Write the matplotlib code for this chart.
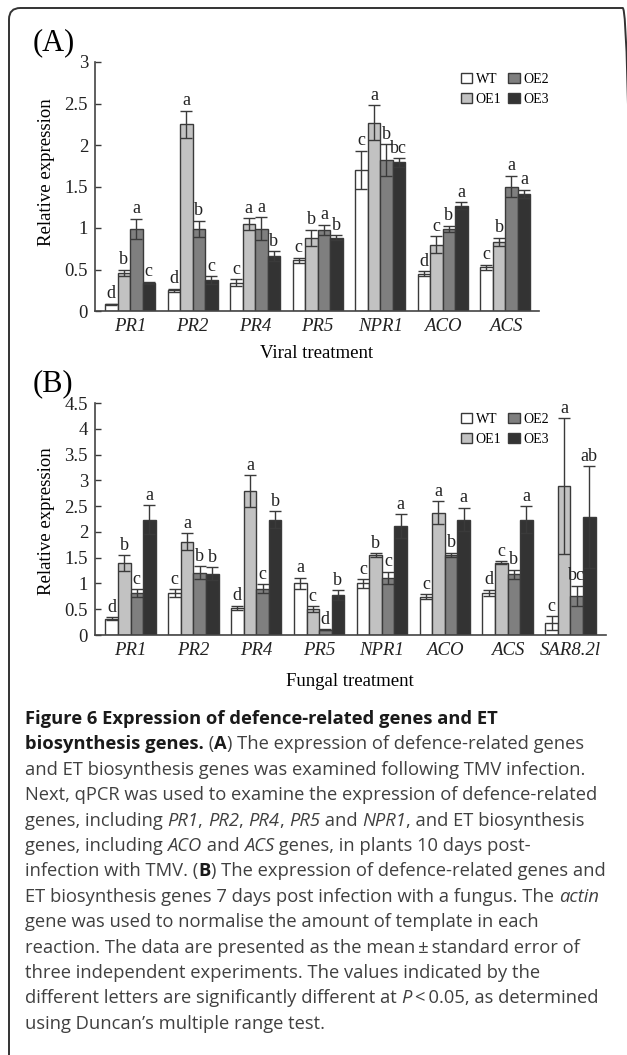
import matplotlib
matplotlib.use("Agg")
import matplotlib.pyplot as plt
import numpy as np
from matplotlib.patches import FancyBboxPatch

W, H = 627, 1055
SERIF = "Liberation Serif"
CAP_FONT = "Open Sans"

lines_names = ["WT", "OE1", "OE2", "OE3"]
bar_colors = ["#ffffff", "#c2c2c2", "#7f7f7f", "#333333"]
edge_col = "#3a3a3a"

# ---- panel A : viral treatment
genes_a = ["PR1", "PR2", "PR4", "PR5", "NPR1", "ACO", "ACS"]
mean_a = {
    "WT":  [0.08, 0.25, 0.34, 0.61, 1.70, 0.45, 0.53],
    "OE1": [0.46, 2.25, 1.05, 0.88, 2.27, 0.80, 0.83],
    "OE2": [0.99, 0.99, 0.99, 0.98, 1.82, 0.99, 1.50],
    "OE3": [0.34, 0.37, 0.66, 0.88, 1.79, 1.27, 1.41],
}
err_a = {
    "WT":  [0.01, 0.02, 0.04, 0.03, 0.23, 0.03, 0.03],
    "OE1": [0.04, 0.16, 0.07, 0.10, 0.21, 0.10, 0.05],
    "OE2": [0.12, 0.10, 0.14, 0.06, 0.19, 0.04, 0.13],
    "OE3": [0.01, 0.05, 0.06, 0.03, 0.05, 0.04, 0.05],
}
let_a = {
    "WT":  ["d", "d", "c", "c", "c", "d", "c"],
    "OE1": ["b", "a", "a", "b", "a", "c", "b"],
    "OE2": ["a", "b", "a", "a", "b", "b", "a"],
    "OE3": ["c", "c", "b", "b", "bc", "a", "a"],
}

# ---- panel B : fungal treatment
genes_b = ["PR1", "PR2", "PR4", "PR5", "NPR1", "ACO", "ACS", "SAR8.2l"]
mean_b = {
    "WT":  [0.32, 0.81, 0.53, 1.00, 1.00, 0.74, 0.82, 0.23],
    "OE1": [1.40, 1.81, 2.79, 0.50, 1.55, 2.37, 1.40, 2.89],
    "OE2": [0.81, 1.21, 0.90, 0.10, 1.11, 1.56, 1.18, 0.76],
    "OE3": [2.24, 1.19, 2.24, 0.77, 2.11, 2.24, 2.24, 2.29],
}
err_b = {
    "WT":  [0.03, 0.08, 0.04, 0.11, 0.08, 0.05, 0.06, 0.14],
    "OE1": [0.15, 0.17, 0.31, 0.06, 0.04, 0.22, 0.03, 1.32],
    "OE2": [0.08, 0.13, 0.08, 0.01, 0.12, 0.04, 0.09, 0.20],
    "OE3": [0.28, 0.12, 0.16, 0.10, 0.23, 0.23, 0.26, 0.99],
}
let_b = {
    "WT":  ["d", "c", "d", "a", "c", "c", "d", "c"],
    "OE1": ["b", "a", "a", "c", "b", "a", "c", "a"],
    "OE2": ["c", "b", "c", "d", "c", "b", "b", "bc"],
    "OE3": ["a", "b", "b", "b", "a", "a", "a", "ab"],
}

caption = [
    [("Figure 6 Expression of defence-related genes and ET", "b")],
    [("biosynthesis genes.", "b"), (" (", "n"), ("A", "b"),
     (") The expression of defence-related genes", "n")],
    [("and ET biosynthesis genes was examined following TMV infection.", "n")],
    [("Next, qPCR was used to examine the expression of defence-related", "n")],
    [("genes, including ", "n"), ("PR1", "i"), (", ", "n"), ("PR2", "i"),
     (", ", "n"), ("PR4", "i"), (", ", "n"), ("PR5", "i"), (" and ", "n"),
     ("NPR1", "i"), (", and ET biosynthesis", "n")],
    [("genes, including ", "n"), ("ACO", "i"), (" and ", "n"), ("ACS", "i"),
     (" genes, in plants 10 days post-", "n")],
    [("infection with TMV. (", "n"), ("B", "b"),
     (") The expression of defence-related genes and", "n")],
    [("ET biosynthesis genes 7 days post infection with a fungus. The ", "n"),
     ("actin", "i")],
    [("gene was used to normalise the amount of template in each", "n")],
    [("reaction. The data are presented as the mean\u2009\u00b1\u2009standard error of", "n")],
    [("three independent experiments. The values indicated by the", "n")],
    [("different letters are significantly different at ", "n"), ("P", "i"),
     ("\u2009<\u20090.05, as determined", "n")],
    [("using Duncan\u2019s multiple range test.", "n")],
]


def px_rect(x0, y_top, x1, y_bot):
    return [x0 / W, 1 - y_bot / H, (x1 - x0) / W, (y_bot - y_top) / H]


def bar_panel(ax, genes, means, errs, letters, ymax, yticks, xlim):
    x = np.arange(len(genes))
    bw = 0.2
    for k, name in enumerate(lines_names):
        xs = x + (k - 1.5) * bw
        ax.bar(xs, means[name], bw, color=bar_colors[k], edgecolor=edge_col,
               linewidth=1.0, label=name, zorder=2)
        ax.errorbar(xs, means[name], yerr=errs[name], fmt="none",
                    ecolor=edge_col, elinewidth=1.0, capsize=4, capthick=1.0,
                    zorder=3)
        for xi, m, e, t in zip(xs, means[name], errs[name], letters[name]):
            ax.text(xi, m + e + ymax * 0.006, t, ha="center", va="bottom",
                    fontsize=13, family=SERIF, color="#222222")
    ax.set_xlim(*xlim)
    ax.set_ylim(0, ymax)
    ax.set_yticks(yticks)
    ax.set_yticklabels([("%g" % v) for v in yticks], family=SERIF,
                       fontsize=13.5, color="#222222")
    ax.set_xticks(x)
    ax.set_xticklabels(genes, family=SERIF, style="italic", fontsize=13.5,
                       color="#222222")
    ax.tick_params(axis="y", direction="in", length=4, width=1.0,
                   color=edge_col, pad=5)
    ax.tick_params(axis="x", length=0, pad=5)
    for s in ["top", "right"]:
        ax.spines[s].set_visible(False)
    for s in ["left", "bottom"]:
        ax.spines[s].set_color("#444444")
        ax.spines[s].set_linewidth(1.2)
    leg = ax.legend(ncol=2, frameon=False, loc="upper left",
                    prop={"family": SERIF, "size": 10},
                    handlelength=0.8, handleheight=0.8, handletextpad=0.3,
                    columnspacing=0.5, labelspacing=0.5,
                    bbox_to_anchor=(0.0, 0.0), borderaxespad=0)
    for h in leg.legend_handles:
        h.set_edgecolor(edge_col)
        h.set_linewidth(1.0)
    return leg


fig = plt.figure(figsize=(W / 100, H / 100), dpi=100)

# outer rounded frame, right and bottom sides fall outside the picture
frame = FancyBboxPatch((9 / W, -0.2), (634 - 9) / W, 1 - 8 / H + 0.2,
                       boxstyle="round,pad=0,rounding_size=0.018",
                       transform=fig.transFigure, fill=False,
                       edgecolor="#333333", linewidth=1.4, mutation_aspect=W / H)
fig.patches.append(frame)

ax_a = fig.add_axes(px_rect(95, 62, 539, 311))
leg = bar_panel(ax_a, genes_a, mean_a, err_a, let_a, 3.0,
                [0, 0.5, 1, 1.5, 2, 2.5, 3], (-0.56, 6.54))
leg.set_bbox_to_anchor((455 / W, 1 - 67 / H), transform=fig.transFigure)

ax_b = fig.add_axes(px_rect(95, 403, 606, 635))
leg = bar_panel(ax_b, genes_b, mean_b, err_b, let_b, 4.5,
                [0, 0.5, 1, 1.5, 2, 2.5, 3, 3.5, 4, 4.5], (-0.565, 7.565))
leg.set_bbox_to_anchor((455 / W, 1 - 407 / H), transform=fig.transFigure)

# panel labels and axis titles
fig.text(33 / W, 1 - 50 / H, "(A)", family=SERIF, fontsize=22, va="baseline")
fig.text(33 / W, 1 - 391 / H, "(B)", family=SERIF, fontsize=22, va="baseline")
fig.text(47 / W, 1 - 172 / H, "Relative expression", family=SERIF,
         fontsize=13.5, rotation=90, ha="center", va="center")
fig.text(47 / W, 1 - 521 / H, "Relative expression", family=SERIF,
         fontsize=13.5, rotation=90, ha="center", va="center")
fig.text(317 / W, 1 - 353 / H, "Viral treatment", family=SERIF,
         fontsize=13.5, ha="center", va="center")
fig.text(350 / W, 1 - 682 / H, "Fungal treatment", family=SERIF,
         fontsize=13.5, ha="center", va="center")

# caption, font size fitted so that line 3 spans the same width
renderer = fig.canvas.get_renderer()
probe = fig.text(0, 0, caption[2][0][0], family=CAP_FONT, fontsize=10)
pw = probe.get_window_extent(renderer).width
probe.remove()
cap_size = 10 * 563.0 / pw

styles = {"n": dict(weight="normal", style="normal"),
          "b": dict(weight="bold", style="normal"),
          "i": dict(weight="normal", style="italic")}
y0, dy = 724, 25.4
for i, segs in enumerate(caption):
    xpx = 25.0
    ypx = y0 + i * dy
    for txt, st in segs:
        t = fig.text(xpx / W, 1 - ypx / H, txt, family=[CAP_FONT, "DejaVu Sans"],
                     fontsize=cap_size, va="baseline", ha="left",
                     color="#1a1a1a" if st == "b" else "#404040", **styles[st])
        xpx += t.get_window_extent(renderer).width

fig.savefig("out.png", dpi=100)
